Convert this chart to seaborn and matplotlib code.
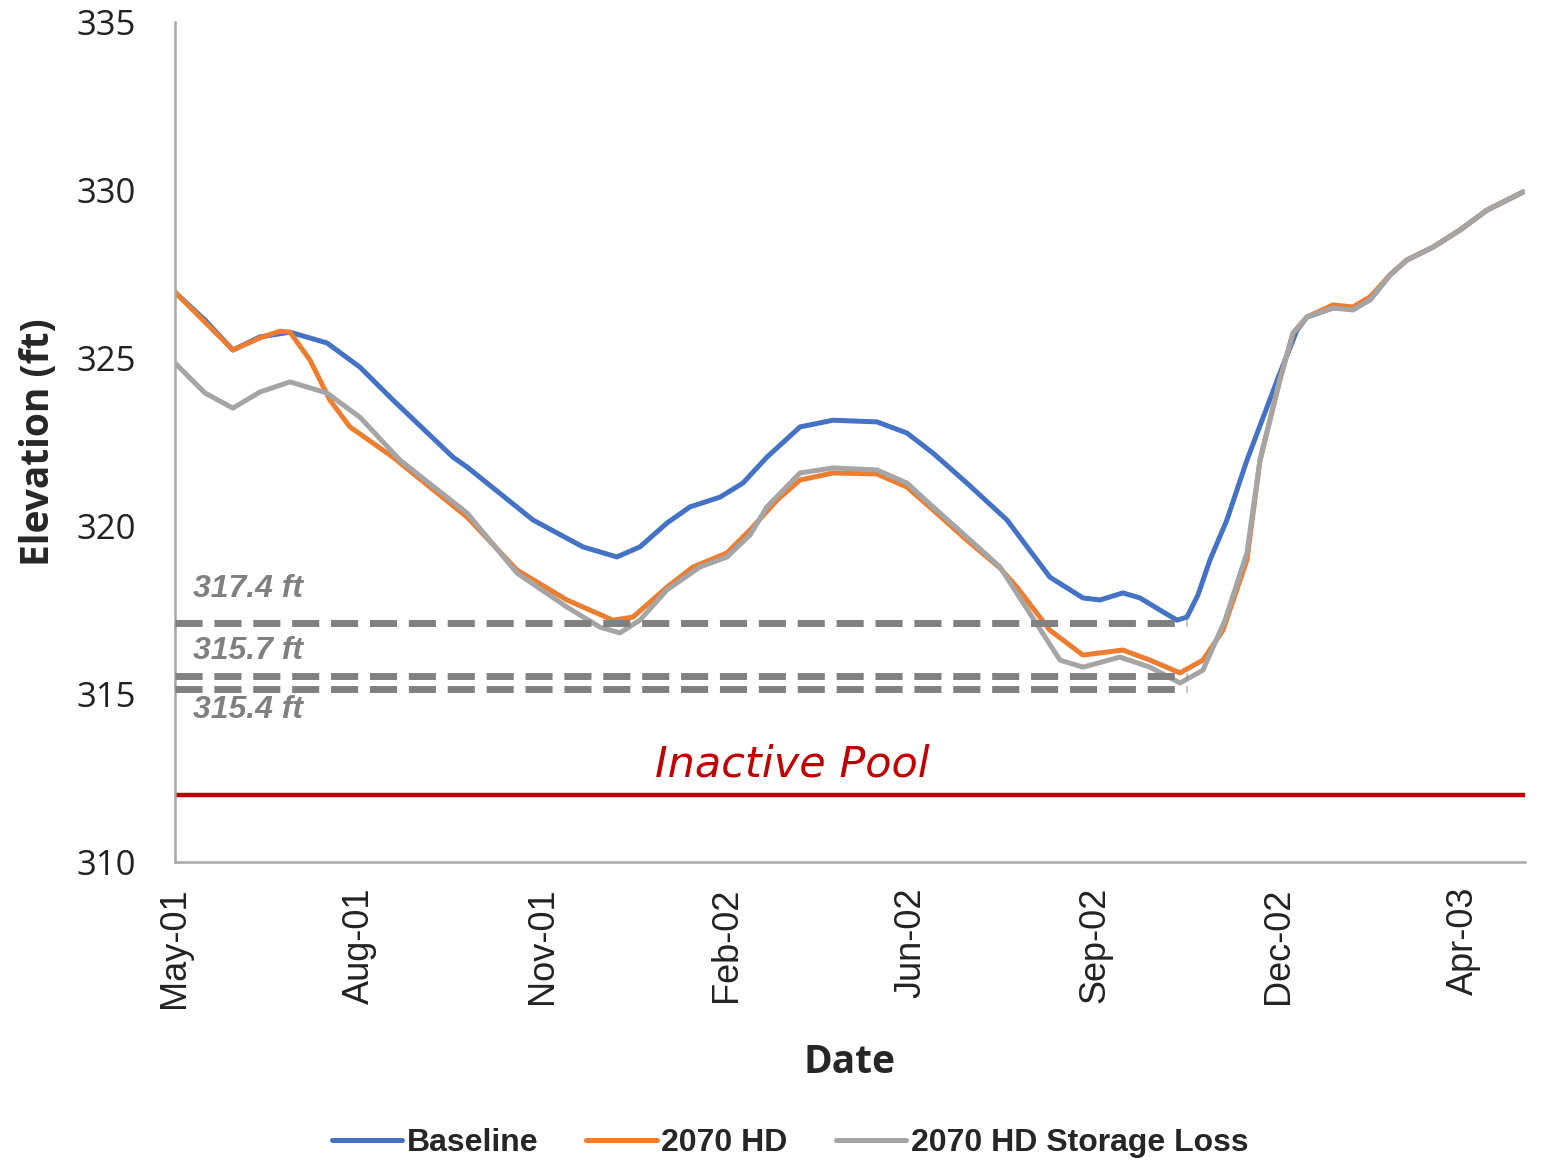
import pandas as pd
import matplotlib
matplotlib.use("Agg")
import matplotlib.pyplot as plt
import seaborn as sns

# x positions are in tick units (0 = May-01, 1 = Aug-01, ...)
tick_labels = ["May-01", "Aug-01", "Nov-01", "Feb-02", "Jun-02", "Sep-02", "Dec-02", "Apr-03"]

base_x = [0.00, 0.163, 0.315, 0.462, 0.625, 0.826, 1.005, 1.185, 1.511, 1.587, 1.946, 2.217,
          2.402, 2.527, 2.674, 2.799, 2.962, 3.087, 3.217, 3.397, 3.576, 3.815, 3.978, 4.120,
          4.304, 4.522, 4.755, 4.935, 5.027, 5.152, 5.245, 5.353, 5.446, 5.500, 5.560, 5.625, 5.717,
          5.826, 6.005, 6.098, 6.152, 6.293, 6.402, 6.495, 6.603, 6.696, 6.837, 6.984, 7.130, 7.326]
base_y = [326.96, 326.13, 325.24, 325.63, 325.77, 325.45, 324.73, 323.75, 322.05, 321.76, 320.18, 319.38,
          319.08, 319.38, 320.09, 320.57, 320.86, 321.28, 322.05, 322.95, 323.15, 323.10, 322.77, 322.17,
          321.28, 320.18, 318.48, 317.86, 317.80, 318.01, 317.86, 317.50, 317.20, 317.29, 317.95, 318.99, 320.18,
          321.96, 324.55, 325.83, 326.22, 326.49, 326.49, 326.73, 327.47, 327.92, 328.30, 328.81, 329.40, 329.94]

hd_x = [0.00, 0.163, 0.315, 0.462, 0.571, 0.625, 0.734, 0.842, 0.951, 1.185, 1.223, 1.587, 1.859,
        2.130, 2.380, 2.489, 2.674, 2.815, 3.000, 3.125, 3.272, 3.397, 3.576, 3.815, 3.978, 4.120,
        4.304, 4.484, 4.576, 4.755, 4.935, 5.152, 5.299, 5.462, 5.587, 5.696, 5.826, 5.897, 6.005,
        6.076, 6.152, 6.293, 6.402, 6.495, 6.603, 6.696, 6.837, 6.984, 7.130, 7.326]
hd_y = [326.96, 326.07, 325.24, 325.60, 325.80, 325.77, 324.94, 323.75, 322.95, 322.05, 321.88, 320.27, 318.69,
        317.80, 317.20, 317.29, 318.18, 318.78, 319.20, 319.88, 320.77, 321.37, 321.58, 321.55, 321.16, 320.48,
        319.58, 318.75, 318.18, 316.90, 316.16, 316.31, 316.01, 315.63, 316.01, 316.90, 318.99, 321.96, 324.35,
        325.74, 326.22, 326.58, 326.52, 326.82, 327.47, 327.92, 328.30, 328.81, 329.40, 329.94]

loss_x = [0.00, 0.163, 0.315, 0.462, 0.625, 0.826, 1.005, 1.223, 1.587, 1.859, 2.130, 2.310, 2.418,
          2.527, 2.674, 2.853, 3.000, 3.125, 3.217, 3.397, 3.576, 3.815, 3.978, 4.120, 4.304, 4.484,
          4.810, 4.935, 5.136, 5.299, 5.462, 5.587, 5.707, 5.826, 5.897, 6.005, 6.076, 6.152, 6.293,
          6.402, 6.495, 6.603, 6.696, 6.837, 6.984, 7.130, 7.326]
loss_y = [324.85, 323.96, 323.51, 323.99, 324.29, 323.96, 323.24, 321.96, 320.39, 318.60, 317.59, 316.99, 316.82,
          317.20, 318.10, 318.78, 319.08, 319.73, 320.57, 321.58, 321.73, 321.67, 321.28, 320.57, 319.67, 318.78,
          316.01, 315.80, 316.10, 315.80, 315.33, 315.71, 317.20, 319.20, 321.96, 324.35, 325.74, 326.22, 326.49,
          326.43, 326.73, 327.47, 327.92, 328.30, 328.81, 329.40, 329.94]

series_names = ["Baseline", "2070 HD", "2070 HD Storage Loss"]
palette = {"Baseline": "#4472C4", "2070 HD": "#ED7D31", "2070 HD Storage Loss": "#A5A5A5"}

# minimum-elevation reference lines and their labels
min_levels = [317.1, 315.55, 315.15]
min_labels = ["317.4 ft", "315.7 ft", "315.4 ft"]
min_label_y = [318.13, 316.28, 314.52]
min_end_x = 5.5
inactive_pool = 312.0

df = pd.concat([
    pd.DataFrame({"x": base_x, "elev": base_y, "series": "Baseline"}),
    pd.DataFrame({"x": hd_x, "elev": hd_y, "series": "2070 HD"}),
    pd.DataFrame({"x": loss_x, "elev": loss_y, "series": "2070 HD Storage Loss"}),
])

sns.set_style("white")
fig = plt.figure(figsize=(15.43, 11.61), dpi=100)
ax = fig.add_axes([0.1134, 0.2575, 0.8749, 0.7235])

sns.lineplot(data=df, x="x", y="elev", hue="series", hue_order=series_names,
             palette=palette, estimator=None, sort=True, linewidth=3.6, ax=ax)

# dashed minimum lines
for lvl in min_levels:
    ax.plot([0, min_end_x], [lvl, lvl], color="#808080", linewidth=5,
            dashes=(3.9, 1.7), zorder=4)
for lab, ly in zip(min_labels, min_label_y):
    ax.text(0.098, ly, lab, family="Liberation Sans", fontsize=23, fontweight="bold",
            fontstyle="italic", color="#808080", va="center", ha="left")

# inactive pool
ax.axhline(inactive_pool, color="#C00000", linewidth=3.2)
ax.text(3.353, 312.89, "Inactive Pool", family="DejaVu Sans", fontstyle="italic", fontsize=31,
        color="#C00000", ha="center", va="center")

ax.set_xlim(0, 7.337)
ax.set_ylim(310, 335)
ax.set_yticks([310, 315, 320, 325, 330, 335])
ax.set_xticks(range(len(tick_labels)))
ax.set_xticklabels(tick_labels, rotation=90, family="Liberation Sans", fontsize=26)
for t in ax.get_yticklabels():
    t.set_family("Open Sans")
    t.set_fontsize(25)

sns.despine(ax=ax)
for s in ["left", "bottom"]:
    ax.spines[s].set_color("#A6A6A6")
    ax.spines[s].set_linewidth(1.8)
ax.tick_params(axis="x", length=8, width=1.8, color="#A6A6A6", pad=10, labelcolor="#222222")
ax.tick_params(axis="y", length=8, width=1.8, color="#A6A6A6", pad=20, labelcolor="#222222")

ax.set_xlabel("Date", family="Open Sans", fontsize=28, fontweight="bold")
ax.set_ylabel("Elevation (ft)", family="Open Sans", fontsize=28, fontweight="bold")
ax.xaxis.set_label_coords(0.5, -0.215)
ax.yaxis.set_label_coords(-0.087, 0.5)

handles, labels = ax.get_legend_handles_labels()
ax.get_legend().remove()
fig.legend(handles, labels, loc="center", bbox_to_anchor=(0.512, 0.0155), ncol=3,
           frameon=False, handlelength=2.2, handletextpad=0.15, columnspacing=1.5,
           prop={"family": "Liberation Sans", "weight": "bold", "size": 23})

fig.savefig("out.png", dpi=100)
